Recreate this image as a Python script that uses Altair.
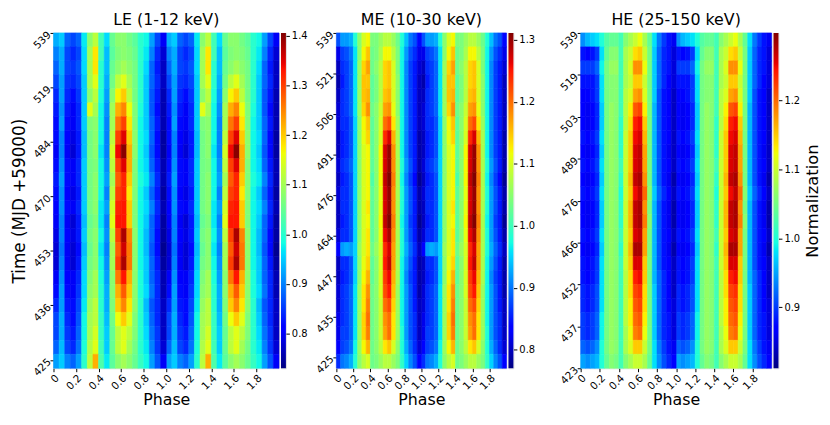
import altair as alt
import numpy as np
import pandas as pd

# ---------------- data (phase 0-1 in 20 bins, repeated for phase 1-2) ----------------
# rows listed from the top of the panel (latest) to the bottom (earliest)
LE_rows = [
    [0.93,0.95,0.88,0.86,0.88,0.97,1.08,1.12,1.02,0.96,1.05,1.08,1.08,1.06,1.04,1.00,0.98,0.92,0.86,0.80],
    [0.90,0.93,0.86,0.84,0.86,0.96,1.10,1.18,1.02,0.94,1.04,1.07,1.08,1.07,1.05,1.00,0.97,0.90,0.84,0.78],
    [0.88,0.93,0.86,0.85,0.87,0.96,1.10,1.18,1.00,0.94,1.05,1.08,1.10,1.08,1.06,1.00,0.96,0.88,0.83,0.77],
    [0.86,0.92,0.85,0.84,0.86,0.95,1.10,1.15,1.00,0.93,1.06,1.12,1.15,1.10,1.06,1.00,0.95,0.88,0.84,0.77],
    [0.84,0.92,0.84,0.82,0.85,0.95,1.08,1.12,0.99,0.92,1.08,1.17,1.20,1.12,1.06,1.00,0.95,0.87,0.83,0.76],
    [0.83,0.91,0.83,0.80,0.84,0.95,1.15,1.10,0.98,0.91,1.10,1.22,1.25,1.16,1.07,0.99,0.95,0.87,0.82,0.76],
    [0.82,0.92,0.82,0.80,0.84,0.95,1.07,1.08,0.98,0.90,1.10,1.26,1.30,1.18,1.07,0.98,0.95,0.88,0.83,0.76],
    [0.82,0.90,0.81,0.79,0.83,0.94,1.06,1.08,0.98,0.90,1.12,1.30,1.35,1.20,1.08,0.98,0.96,0.88,0.82,0.75],
    [0.80,0.90,0.80,0.78,0.83,0.94,1.06,1.08,0.97,0.90,1.14,1.34,1.40,1.22,1.08,0.98,0.95,0.87,0.82,0.75],
    [0.82,0.91,0.82,0.80,0.84,0.95,1.06,1.07,0.98,0.91,1.12,1.30,1.35,1.22,1.07,0.98,0.96,0.88,0.83,0.76],
    [0.83,0.92,0.82,0.80,0.84,0.95,1.06,1.08,0.98,0.92,1.10,1.28,1.32,1.20,1.07,0.99,0.97,0.90,0.84,0.76],
    [0.82,0.91,0.81,0.79,0.83,0.95,1.06,1.08,0.98,0.90,1.12,1.30,1.32,1.18,1.07,0.98,0.95,0.88,0.83,0.75],
    [0.81,0.91,0.82,0.80,0.84,0.95,1.06,1.08,0.97,0.92,1.14,1.32,1.33,1.20,1.07,0.98,0.96,0.90,0.84,0.76],
    [0.80,0.90,0.80,0.78,0.83,0.94,1.05,1.07,0.97,0.90,1.15,1.33,1.33,1.20,1.07,0.98,0.95,0.88,0.83,0.75],
    [0.79,0.90,0.81,0.79,0.83,0.95,1.06,1.08,0.98,0.91,1.12,1.30,1.38,1.25,1.08,0.98,0.94,0.88,0.82,0.75],
    [0.78,0.89,0.80,0.78,0.82,0.94,1.05,1.08,0.97,0.90,1.10,1.28,1.36,1.26,1.08,0.98,0.94,0.87,0.82,0.74],
    [0.78,0.90,0.80,0.78,0.83,0.95,1.06,1.08,0.98,0.91,1.10,1.30,1.38,1.26,1.08,0.98,0.95,0.88,0.83,0.75],
    [0.80,0.91,0.81,0.80,0.84,0.96,1.07,1.10,0.99,0.92,1.08,1.26,1.33,1.22,1.08,0.99,0.95,0.88,0.84,0.76],
    [0.82,0.92,0.82,0.80,0.85,0.96,1.08,1.10,1.00,0.93,1.08,1.22,1.28,1.20,1.08,0.99,0.96,0.89,0.84,0.76],
    [0.84,0.92,0.83,0.82,0.86,0.97,1.09,1.12,1.00,0.93,1.07,1.20,1.25,1.18,1.08,1.00,0.94,0.87,0.84,0.77],
    [0.86,0.93,0.84,0.82,0.87,0.98,1.10,1.12,1.01,0.94,1.06,1.16,1.20,1.15,1.07,1.00,0.95,0.88,0.84,0.77],
    [0.86,0.93,0.85,0.83,0.88,0.98,1.10,1.14,1.01,0.95,1.05,1.12,1.15,1.12,1.07,1.00,0.96,0.89,0.85,0.77],
    [0.88,0.94,0.86,0.84,0.89,0.99,1.11,1.15,1.02,0.95,1.05,1.12,1.15,1.10,1.06,1.00,0.97,0.90,0.85,0.78],
    [0.92,0.95,0.90,0.88,0.92,1.00,1.12,1.22,1.03,0.97,1.04,1.08,1.10,1.08,1.05,1.01,0.98,0.92,0.87,0.80],
]
ME_rows = [
    [0.88,0.92,0.92,0.93,0.98,1.05,1.10,1.12,1.04,1.04,1.06,1.08,1.08,1.06,1.03,0.98,0.94,0.90,0.88,0.84],
    [0.82,0.87,0.88,0.90,0.96,1.05,1.12,1.15,1.03,1.04,1.07,1.12,1.12,1.08,1.04,0.97,0.92,0.88,0.86,0.82],
    [0.80,0.86,0.87,0.89,0.96,1.06,1.14,1.17,1.03,1.05,1.08,1.14,1.15,1.10,1.04,0.97,0.91,0.87,0.85,0.81],
    [0.79,0.85,0.87,0.89,0.96,1.06,1.15,1.15,1.02,1.04,1.08,1.14,1.15,1.10,1.05,0.97,0.91,0.87,0.85,0.80],
    [0.80,0.86,0.87,0.89,0.96,1.06,1.15,1.16,1.02,1.04,1.08,1.15,1.16,1.10,1.05,0.97,0.91,0.87,0.85,0.80],
    [0.81,0.86,0.87,0.89,0.96,1.06,1.14,1.18,1.03,1.05,1.09,1.17,1.18,1.11,1.05,0.97,0.91,0.87,0.85,0.80],
    [0.81,0.86,0.86,0.88,0.95,1.05,1.12,1.15,1.02,1.05,1.10,1.20,1.22,1.13,1.06,0.97,0.91,0.87,0.85,0.80],
    [0.80,0.85,0.86,0.88,0.95,1.05,1.11,1.14,1.02,1.05,1.10,1.24,1.27,1.16,1.07,0.97,0.91,0.87,0.85,0.79],
    [0.80,0.85,0.86,0.88,0.95,1.05,1.10,1.12,1.02,1.05,1.12,1.27,1.30,1.18,1.07,0.97,0.91,0.87,0.85,0.79],
    [0.81,0.86,0.87,0.89,0.95,1.05,1.10,1.12,1.02,1.05,1.12,1.27,1.30,1.18,1.07,0.98,0.92,0.88,0.85,0.79],
    [0.80,0.85,0.86,0.88,0.95,1.05,1.10,1.12,1.01,1.05,1.12,1.28,1.31,1.19,1.07,0.97,0.91,0.87,0.84,0.78],
    [0.81,0.86,0.86,0.88,0.95,1.05,1.10,1.12,1.02,1.05,1.11,1.27,1.30,1.18,1.07,0.98,0.92,0.88,0.85,0.79],
    [0.80,0.86,0.86,0.88,0.95,1.05,1.10,1.13,1.02,1.05,1.11,1.27,1.30,1.18,1.07,0.98,0.92,0.88,0.85,0.79],
    [0.80,0.85,0.86,0.88,0.95,1.05,1.10,1.12,1.02,1.05,1.12,1.28,1.31,1.19,1.07,0.97,0.92,0.87,0.85,0.78],
    [0.81,0.86,0.86,0.88,0.95,1.05,1.10,1.13,1.02,1.05,1.11,1.26,1.29,1.18,1.07,0.98,0.92,0.88,0.85,0.79],
    [0.83,0.92,0.93,0.92,0.95,1.06,1.10,1.13,1.03,1.06,1.10,1.24,1.27,1.17,1.07,0.98,0.93,0.89,0.86,0.80],
    [0.80,0.86,0.86,0.88,0.95,1.05,1.11,1.14,1.02,1.05,1.10,1.25,1.28,1.17,1.07,0.97,0.92,0.88,0.85,0.79],
    [0.80,0.85,0.86,0.88,0.95,1.05,1.12,1.16,1.02,1.05,1.10,1.23,1.26,1.16,1.07,0.97,0.91,0.87,0.85,0.79],
    [0.81,0.86,0.87,0.89,0.96,1.06,1.13,1.18,1.03,1.05,1.10,1.22,1.25,1.15,1.06,0.97,0.92,0.88,0.85,0.79],
    [0.81,0.86,0.87,0.89,0.96,1.06,1.13,1.19,1.03,1.05,1.09,1.20,1.22,1.14,1.06,0.97,0.92,0.88,0.85,0.80],
    [0.82,0.86,0.87,0.89,0.96,1.06,1.14,1.20,1.03,1.05,1.09,1.18,1.20,1.13,1.06,0.97,0.92,0.88,0.86,0.80],
    [0.82,0.87,0.87,0.89,0.96,1.06,1.14,1.19,1.03,1.05,1.09,1.17,1.20,1.13,1.06,0.98,0.92,0.88,0.86,0.80],
    [0.83,0.87,0.88,0.90,0.97,1.06,1.12,1.16,1.03,1.05,1.08,1.13,1.15,1.10,1.05,0.98,0.93,0.89,0.86,0.81],
    [0.86,0.90,0.91,0.93,0.98,1.05,1.08,1.10,1.03,1.04,1.06,1.08,1.08,1.06,1.04,0.99,0.95,0.91,0.88,0.83],
]
HE_rows = [
    [0.94,0.96,0.97,0.98,1.00,1.03,1.04,1.04,1.02,1.06,1.08,1.10,1.12,1.08,1.04,0.98,0.93,0.90,0.88,0.86],
    [0.88,0.87,0.88,0.90,0.98,1.04,1.06,1.06,1.02,1.08,1.10,1.14,1.15,1.10,1.05,0.97,0.92,0.89,0.88,0.85],
    [0.90,0.90,0.90,0.92,0.99,1.05,1.07,1.07,1.02,1.08,1.11,1.18,1.18,1.12,1.05,0.97,0.92,0.89,0.88,0.85],
    [0.88,0.88,0.88,0.90,0.98,1.05,1.06,1.06,1.02,1.08,1.10,1.15,1.15,1.10,1.05,0.97,0.92,0.89,0.87,0.85],
    [0.87,0.87,0.88,0.90,0.98,1.05,1.06,1.06,1.02,1.09,1.11,1.17,1.18,1.11,1.05,0.97,0.91,0.88,0.87,0.84],
    [0.87,0.86,0.87,0.89,0.97,1.05,1.07,1.06,1.02,1.09,1.13,1.21,1.22,1.13,1.05,0.96,0.91,0.88,0.87,0.84],
    [0.87,0.86,0.87,0.89,0.97,1.05,1.07,1.06,1.01,1.09,1.14,1.24,1.25,1.15,1.05,0.96,0.91,0.88,0.87,0.84],
    [0.88,0.87,0.88,0.90,0.98,1.05,1.07,1.06,1.01,1.10,1.15,1.25,1.26,1.16,1.05,0.96,0.91,0.88,0.87,0.84],
    [0.87,0.86,0.87,0.89,0.97,1.05,1.07,1.06,1.01,1.10,1.15,1.26,1.27,1.17,1.05,0.96,0.91,0.88,0.86,0.84],
    [0.88,0.87,0.88,0.90,0.98,1.05,1.07,1.06,1.02,1.10,1.15,1.26,1.27,1.17,1.05,0.96,0.91,0.88,0.87,0.84],
    [0.87,0.86,0.87,0.89,0.97,1.05,1.07,1.06,1.01,1.10,1.16,1.27,1.28,1.18,1.05,0.96,0.91,0.88,0.86,0.83],
    [0.88,0.87,0.88,0.90,0.98,1.05,1.07,1.06,1.00,1.10,1.15,1.25,1.27,1.20,1.06,0.97,0.92,0.89,0.87,0.84],
    [0.87,0.86,0.87,0.89,0.97,1.05,1.07,1.06,1.01,1.10,1.16,1.27,1.28,1.18,1.05,0.96,0.91,0.88,0.86,0.83],
    [0.87,0.86,0.87,0.89,0.97,1.05,1.07,1.06,1.01,1.10,1.16,1.27,1.28,1.19,1.06,0.96,0.91,0.88,0.86,0.83],
    [0.88,0.87,0.88,0.90,0.98,1.05,1.07,1.06,1.02,1.10,1.15,1.26,1.27,1.17,1.05,0.96,0.91,0.88,0.87,0.84],
    [0.87,0.86,0.87,0.89,0.97,1.05,1.07,1.06,1.01,1.10,1.16,1.28,1.28,1.17,1.05,0.96,0.91,0.88,0.86,0.83],
    [0.88,0.87,0.88,0.90,0.98,1.05,1.07,1.06,1.02,1.10,1.15,1.26,1.26,1.15,1.05,0.96,0.91,0.88,0.87,0.84],
    [0.88,0.87,0.88,0.90,0.98,1.05,1.07,1.06,1.02,1.09,1.14,1.24,1.25,1.15,1.05,0.96,0.92,0.89,0.87,0.84],
    [0.89,0.88,0.89,0.91,0.98,1.05,1.07,1.06,1.02,1.09,1.14,1.22,1.23,1.14,1.05,0.97,0.92,0.89,0.87,0.84],
    [0.89,0.88,0.89,0.91,0.98,1.05,1.07,1.06,1.02,1.09,1.13,1.21,1.22,1.14,1.05,0.97,0.92,0.89,0.87,0.85],
    [0.90,0.89,0.90,0.92,0.99,1.05,1.07,1.06,1.02,1.09,1.13,1.20,1.21,1.13,1.05,0.97,0.92,0.89,0.88,0.85],
    [0.90,0.89,0.90,0.92,0.99,1.05,1.07,1.06,1.02,1.08,1.12,1.19,1.20,1.12,1.05,0.97,0.92,0.89,0.88,0.85],
    [0.92,0.91,0.92,0.94,1.00,1.05,1.07,1.06,1.02,1.08,1.11,1.15,1.15,1.10,1.05,0.98,0.93,0.90,0.88,0.86],
    [0.95,0.94,0.95,0.96,1.00,1.04,1.06,1.05,1.02,1.06,1.08,1.10,1.10,1.08,1.04,0.98,0.94,0.91,0.89,0.87],
]

# colour ranges of the three colour bars
LE_range = [0.73, 1.406]
ME_range = [0.77, 1.311]
HE_range = [0.8115, 1.298]
LE_cbar = [0.8, 0.9, 1.0, 1.1, 1.2, 1.3, 1.4]
ME_cbar = [0.8, 0.9, 1.0, 1.1, 1.2, 1.3]
HE_cbar = [0.9, 1.0, 1.1, 1.2]

# time tick labels (row positions, MJD-59000 labels)
LE_tpos = [0.59, 4.50, 8.40, 12.30, 16.20, 20.10, 24.0]
LE_tlab = ["425", "436", "453", "470", "484", "519", "539"]
ME_tpos = [0.78, 3.68, 6.58, 9.49, 12.39, 15.29, 18.19, 21.10, 24.0]
ME_tlab = ["425", "435", "447", "464", "476", "491", "506", "521", "539"]
HE_tpos = [0, 3, 6, 9, 12, 15, 18, 21, 24]
HE_tlab = ["423", "437", "452", "466", "476", "489", "503", "519", "539"]

PHASE_TICKS = [0, 0.2, 0.4, 0.6, 0.8, 1.0, 1.2, 1.4, 1.6, 1.8]
NBIN = 20
H = 339

# ---------------- jet colormap ----------------
JET = {
    "r": ([0, 0.35, 0.66, 0.89, 1], [0, 0, 1, 1, 0.5]),
    "g": ([0, 0.125, 0.375, 0.64, 0.91, 1], [0, 0, 1, 1, 0, 0]),
    "b": ([0, 0.11, 0.34, 0.65, 1], [0.5, 1, 1, 0, 0]),
}
BPS = [0, 0.11, 0.125, 0.34, 0.35, 0.375, 0.64, 0.65, 0.66, 0.89, 0.91, 1.0]


def jet_hex(t):
    c = [float(np.interp(t, *JET[k])) for k in "rgb"]
    return "#" + "".join(f"{int(round(v * 255)):02x}" for v in c)


JET_COLORS = [jet_hex(t) for t in BPS]
FONT = "DejaVu Sans"
TICKFS = 10.5


def heat(rows, vr, tpos, tlab, title, width, ytitle):
    n = len(rows)
    recs = []
    for i, row in enumerate(rows):
        r = n - 1 - i
        for j, v in enumerate(row):
            for cyc in (0, 1):
                recs.append({"p0": cyc + j / NBIN, "p1": cyc + (j + 1) / NBIN,
                             "r0": r, "r1": r + 1, "norm": v})
    df = pd.DataFrame(recs)
    dom = [vr[0] + t * (vr[1] - vr[0]) for t in BPS]
    scale = alt.Scale(domain=dom, range=JET_COLORS, interpolate="rgb", clamp=True)
    lab_expr = ("[" + ",".join(f"'{s}'" for s in tlab) + "][indexof(["
                + ",".join(str(p) for p in tpos) + "], datum.value)]")
    yaxis_kw = dict(values=tpos, labelExpr=lab_expr, labelAngle=315, labelAlign="right",
                    labelBaseline="middle", labelFontSize=TICKFS, labelFont=FONT,
                    labelColor="black", tickColor="black", tickSize=3.5, domain=False,
                    grid=False, labelFlush=False, labelOverlap=False, labelPadding=1)
    if ytitle:
        yaxis_kw.update(title=ytitle, titleFontSize=17, titleFont=FONT,
                        titleFontWeight="normal", titleColor="black", titlePadding=3)
    else:
        yaxis_kw.update(title=None)
    return alt.Chart(df).mark_rect(strokeWidth=0.6).encode(
        x=alt.X("p0:Q", scale=alt.Scale(domain=[0, 2], nice=False, zero=False),
                axis=alt.Axis(values=PHASE_TICKS,
                              labelExpr="datum.value == 0 ? '0' : format(datum.value, '.1f')",
                              labelAngle=315, labelAlign="right", labelBaseline="top",
                              labelFontSize=TICKFS, labelFont=FONT, labelColor="black",
                              tickColor="black", tickSize=3.5, domain=False, grid=False,
                              labelFlush=False, labelOverlap=False, labelPadding=1,
                              title="Phase", titleFontSize=16, titleFont=FONT,
                              titleFontWeight="normal", titleColor="black", titlePadding=0)),
        x2="p1:Q",
        y=alt.Y("r0:Q", scale=alt.Scale(domain=[0, n], nice=False, zero=False),
                axis=alt.Axis(**yaxis_kw)),
        y2="r1:Q",
        color=alt.Color("norm:Q", scale=scale, legend=None),
        stroke=alt.Stroke("norm:Q", scale=scale, legend=None),
    ).properties(width=width, height=H,
                 title=alt.TitleParams(title, fontSize=16, font=FONT, fontWeight="normal",
                                       color="black", offset=2, anchor="middle"))


def cbar(vr, vals, ctitle):
    df = pd.DataFrame({"lo": [vr[0]], "hi": [vr[1]]})
    grad = alt.Gradient(gradient="linear",
                        stops=[alt.GradientStop(offset=t, color=c) for t, c in zip(BPS, JET_COLORS)],
                        x1=0, x2=0, y1=1, y2=0)
    ax = dict(orient="right", values=vals, format=".1f", labelFontSize=10, labelFont=FONT,
              labelColor="black", tickColor="black", tickSize=3.5, domain=False, grid=False,
              labelPadding=2, labelFlush=False, labelOverlap=False)
    if ctitle:
        ax.update(title=ctitle, titleAngle=270, titleBaseline="top", titleFontSize=16.5,
                  titleFont=FONT, titleFontWeight="normal", titleColor="black",
                  titlePadding=5)
    else:
        ax.update(title=None)
    return alt.Chart(df).mark_rect(fill=grad).encode(
        y=alt.Y("lo:Q", scale=alt.Scale(domain=vr, nice=False, zero=False), axis=alt.Axis(**ax)),
        y2="hi:Q",
    ).properties(width=5, height=H)


def spacer(w):
    df = pd.DataFrame({"a": [0]})
    return alt.Chart(df).mark_point(opacity=0).encode(
        x=alt.X("a:Q", axis=None), y=alt.Y("a:Q", axis=None)
    ).properties(width=w, height=H, view=alt.ViewBackground(strokeOpacity=0))


views = [
    heat(LE_rows, LE_range, LE_tpos, LE_tlab, "LE (1-12 keV)", 228, "Time (MJD +59000)"),
    cbar(LE_range, LE_cbar, None),
    spacer(47),
    heat(ME_rows, ME_range, ME_tpos, ME_tlab, "ME (10-30 keV)", 172, None),
    cbar(ME_range, ME_cbar, None),
    spacer(64),
    heat(HE_rows, HE_range, HE_tpos, HE_tlab, "HE (25-150 keV)", 193, None),
    cbar(HE_range, HE_cbar, "Normalization"),
]

chart = alt.hconcat(*views, spacing=2, bounds="flush").resolve_scale(
    color="independent", stroke="independent", y="independent", x="independent"
).properties(
    padding={"left": 2, "top": 0, "right": 0, "bottom": 0}
).configure_view(stroke="#222", strokeWidth=0.8).configure(font=FONT, background="white")

chart.save("out.html", embed_options={"renderer": "svg", "actions": False})
